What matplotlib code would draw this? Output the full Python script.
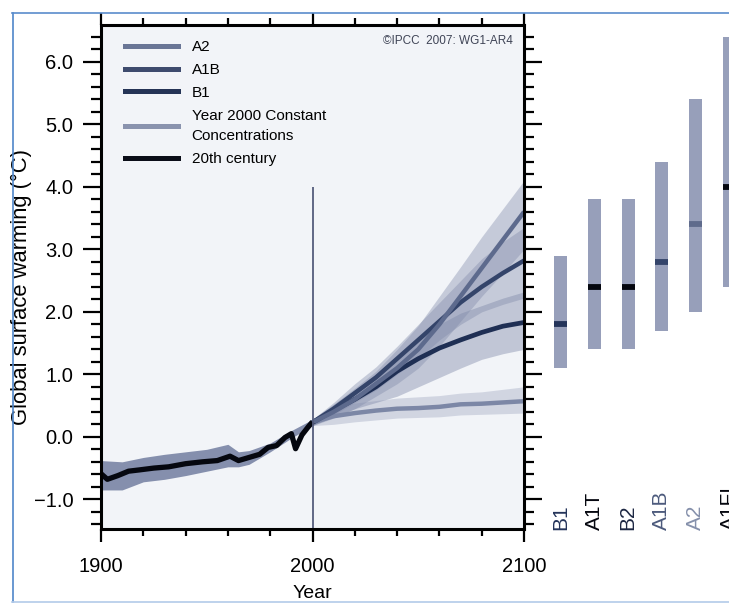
"""Global surface warming, IPCC AR4 SPM.5 (grey-blue version) + likely ranges on the right."""
import numpy as np
import matplotlib.pyplot as plt
import matplotlib.transforms as mtransforms
from matplotlib.ticker import MultipleLocator, FixedLocator, FuncFormatter
from matplotlib.lines import Line2D

plt.rcParams['font.family'] = ['Liberation Sans', 'DejaVu Sans']

# 20th century
yrs_20c = [1900, 1903, 1908, 1913, 1918, 1925, 1932, 1940, 1948, 1955, 1961, 1965,
           1969, 1975, 1979, 1983, 1987, 1990, 1992, 1995, 1998, 2000]
t_20c = [-0.59, -0.68, -0.62, -0.55, -0.53, -0.50, -0.48, -0.43, -0.40, -0.38, -0.31, -0.38,
         -0.34, -0.28, -0.17, -0.14, -0.01, 0.05, -0.19, 0.03, 0.16, 0.24]
band_yrs_20c = [1900, 1910, 1920, 1930, 1940, 1950, 1960, 1965, 1970, 1980, 1990, 2000]
hi_20c = [-0.38, -0.40, -0.33, -0.28, -0.24, -0.20, -0.12, -0.24, -0.22, -0.10, 0.10, 0.28]
lo_20c = [-0.85, -0.85, -0.72, -0.68, -0.62, -0.55, -0.48, -0.48, -0.44, -0.24, -0.02, 0.18]

# projections 2000-2100
yrs_proj = [2000, 2010, 2020, 2030, 2040, 2050, 2060, 2070, 2080, 2090, 2100]
a2 = [0.23, 0.40, 0.60, 0.85, 1.10, 1.40, 1.80, 2.25, 2.70, 3.15, 3.60]
a2_hi = [0.28, 0.52, 0.78, 1.05, 1.40, 1.78, 2.25, 2.72, 3.20, 3.65, 4.10]
a2_lo = [0.18, 0.30, 0.45, 0.65, 0.85, 1.10, 1.45, 1.85, 2.25, 2.62, 3.00]
a1b = [0.23, 0.45, 0.70, 0.95, 1.25, 1.55, 1.85, 2.15, 2.40, 2.62, 2.82]
a1b_hi = [0.28, 0.55, 0.85, 1.12, 1.45, 1.80, 2.15, 2.50, 2.85, 3.12, 3.35]
a1b_lo = [0.18, 0.35, 0.55, 0.75, 1.00, 1.25, 1.55, 1.80, 2.00, 2.12, 2.22]
b1 = [0.23, 0.42, 0.60, 0.80, 1.05, 1.25, 1.42, 1.55, 1.67, 1.77, 1.83]
b1_hi = [0.28, 0.52, 0.75, 1.00, 1.30, 1.55, 1.80, 1.98, 2.10, 2.22, 2.32]
b1_lo = [0.18, 0.32, 0.45, 0.55, 0.65, 0.80, 0.95, 1.10, 1.24, 1.33, 1.40]
commit = [0.23, 0.33, 0.38, 0.42, 0.45, 0.46, 0.48, 0.52, 0.53, 0.55, 0.57]
commit_hi = [0.28, 0.48, 0.54, 0.58, 0.62, 0.64, 0.66, 0.70, 0.72, 0.76, 0.80]
commit_lo = [0.18, 0.20, 0.24, 0.27, 0.30, 0.31, 0.32, 0.35, 0.36, 0.37, 0.38]

# likely ranges at 2090-2099
scen = ['B1', 'A1T', 'B2', 'A1B', 'A2', 'A1FI']
best = [1.8, 2.4, 2.4, 2.8, 3.4, 4.0]
rng_lo = [1.1, 1.4, 1.4, 1.7, 2.0, 2.4]
rng_hi = [2.9, 3.8, 3.8, 4.4, 5.4, 6.4]
best_col = ['#24345a', '#05070f', '#05070f', '#34446a', '#5f6b8c', '#05070f']
lab_col = ['#24345a', '#05070f', '#1c2642', '#4c5a7c', '#8590ab', '#05070f']

W, H = 729, 603
YLIM = (-1.475, 6.59)
fig = plt.figure(figsize=(W / 100, H / 100), dpi=100)
ax = fig.add_axes([101 / W, 1 - 529 / H, 423 / W, 504 / H])
ax.set_facecolor('#f2f4f8')

band = '#7e88a8'
ax.fill_between(yrs_proj, commit_lo, commit_hi, color='#a9b0c7', alpha=0.45, lw=0)
ax.fill_between(yrs_proj, b1_lo, b1_hi, color=band, alpha=0.42, lw=0)
ax.fill_between(yrs_proj, a1b_lo, a1b_hi, color=band, alpha=0.38, lw=0)
ax.fill_between(yrs_proj, a2_lo, a2_hi, color=band, alpha=0.38, lw=0)
ax.fill_between(band_yrs_20c, lo_20c, hi_20c, color='#858fad', lw=0)

ax.plot(yrs_proj, commit, color='#7c87a6', lw=3.2, solid_capstyle='butt')
ax.plot(yrs_proj, b1, color='#1f2f54', lw=3.4, solid_capstyle='butt')
ax.plot(yrs_proj, a1b, color='#34446a', lw=3.2, solid_capstyle='butt')
ax.plot(yrs_proj, a2, color='#5d6a8d', lw=3.2, solid_capstyle='butt')
ax.plot(yrs_20c, t_20c, color='#05070f', lw=3.8, solid_capstyle='butt')
ax.vlines(2000, YLIM[0], 4.0, color='#555d7d', lw=1.3)

ax.set_xlim(1900, 2100)
ax.set_ylim(*YLIM)
ax.xaxis.set_major_locator(FixedLocator([1900, 2000, 2100]))
ax.xaxis.set_minor_locator(MultipleLocator(20))
ax.yaxis.set_major_locator(MultipleLocator(1))
ax.yaxis.set_minor_locator(MultipleLocator(0.2))
ax.yaxis.set_major_formatter(FuncFormatter(lambda v, p: ('%.1f' % v).replace('-', '\u2212')))
for s in ax.spines.values():
    s.set_linewidth(2.2)
ax.tick_params(axis='both', which='both', direction='out', width=1.6, colors='black',
               labelsize=14.5)
ax.tick_params(axis='x', which='major', length=9, pad=11, top=True)
ax.tick_params(axis='x', which='minor', length=5, top=True)
ax.tick_params(axis='y', which='major', length=13, pad=7, right=True)
ax.tick_params(axis='y', which='minor', length=7, right=True)

ax.set_xlabel('Year', fontsize=14)
ax.xaxis.set_label_coords(0.5, -0.127)
ax.xaxis.label.set_va('center')
ax.set_ylabel('Global surface warming (\u00b0C)', fontsize=15.8)
ax.yaxis.set_label_coords(-0.188, 0.48)
ax.yaxis.label.set_va('center')

ax.text(0.974, 0.968, '\u00a9IPCC  2007: WG1-AR4', transform=ax.transAxes,
        ha='right', va='center', fontsize=8.5, color='#3f4456')

handles = [Line2D([], [], color=c, lw=3.6) for c in
           ['#6a7696', '#3e4b6e', '#253456', '#8a93ae', '#0b0d18']]
labels = ['A2', 'A1B', 'B1', 'Year 2000 Constant\nConcentrations', '20th century']
leg = ax.legend(handles, labels, loc='upper left', bbox_to_anchor=(0.057, 0.970), frameon=False,
                fontsize=11, handlelength=3.45, handletextpad=0.9, labelspacing=0.58,
                borderaxespad=0, borderpad=0)
for t in leg.get_texts():
    t.set_linespacing(1.6)

# right panel: likely ranges
ax2 = fig.add_axes([543.6 / W, 1 - 529 / H, 202.8 / W, 504 / H])
ax2.set_xlim(-0.5, len(scen) - 0.5)
ax2.set_ylim(*YLIM)
ax2.axis('off')
x = np.arange(len(scen))
ax2.bar(x, np.array(rng_hi) - np.array(rng_lo), bottom=rng_lo, width=0.385, color='#979fba')
ax2.hlines(best, x - 0.1925, x + 0.1925, colors=best_col, lw=4.2)
tr = mtransforms.blended_transform_factory(ax2.transData, ax2.transAxes)
for i, (name, c) in enumerate(zip(scen, lab_col)):
    ax2.text(i, -0.002, name, transform=tr, rotation=90, ha='center', va='bottom',
             fontsize=15, color=c, clip_on=False)

# thin blue frame of the original screenshot
fig.add_artist(Line2D([12.5 / W, 12.5 / W], [1 - 13 / H, 1 - 601.5 / H], color='#4f86c9', lw=1.2))
fig.add_artist(Line2D([12 / W, 1], [1 - 13 / H, 1 - 13 / H], color='#5a8ccc', lw=1.2))
fig.add_artist(Line2D([12 / W, 1], [1 - 601.5 / H, 1 - 601.5 / H], color='#b3cbe9', lw=1.2))

fig.savefig('out.png', dpi=100)
